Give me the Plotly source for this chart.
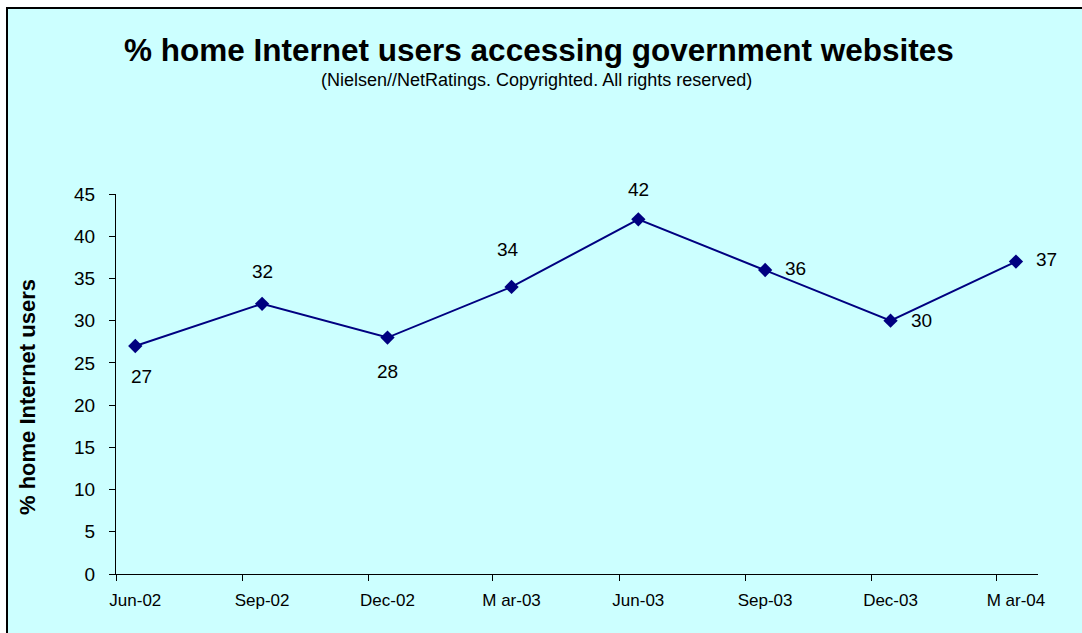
import plotly.graph_objects as go

# Quarterly survey results (mid-month of each quarter)
dates = ["2002-06-15", "2002-09-15", "2002-12-15", "2003-03-15",
         "2003-06-15", "2003-09-15", "2003-12-15", "2004-03-15"]
pct_users = [27, 32, 28, 34, 42, 36, 30, 37]
date_labels = ["Jun-02", "Sep-02", "Dec-02", "M ar-03",
               "Jun-03", "Sep-03", "Dec-03", "M ar-04"]

# value-label offsets from each point, in pixels (dx, dy; dy positive = up)
label_dx = [6, 0, 0, -4, 0, 30, 31, 31]
label_dy = [-30, 32, -34, 37, 30, 2, 0, 2]

# tick marks sit on the first day of each quarter month
quarter_starts = ["2002-06-01", "2002-09-01", "2002-12-01", "2003-03-01",
                  "2003-06-01", "2003-09-01", "2003-12-01", "2004-03-01"]

NAVY = "#000080"
BG = "#CCFFFF"
FONT = "Liberation Sans, Arial, sans-serif"

# plot-area geometry in pixels
W, H = 1082, 633
L, R, T, B = 116, 44, 194, 59
pw, ph = W - L - R, H - T - B

def px_x(x):
    return (x - L) / pw

def px_y(y):
    return (H - B - y) / ph

fig = go.Figure()
fig.add_trace(go.Scatter(
    x=dates, y=pct_users,
    mode="lines+markers",
    line=dict(color=NAVY, width=2),
    marker=dict(symbol="diamond", size=11, color=NAVY),
    cliponaxis=False,
    showlegend=False,
))

annotations = [
    dict(text="<b>% home Internet users accessing government websites</b>",
         xref="paper", yref="paper", x=px_x(539), y=px_y(50),
         xanchor="center", yanchor="middle", showarrow=False,
         font=dict(family=FONT, size=31.5, color="black")),
    dict(text="(Nielsen//NetRatings. Copyrighted. All rights reserved)",
         xref="paper", yref="paper", x=px_x(536), y=px_y(80),
         xanchor="center", yanchor="middle", showarrow=False,
         font=dict(family=FONT, size=18, color="black")),
    dict(text="<b>% home Internet users</b>",
         xref="paper", yref="paper", x=px_x(27), y=px_y(397),
         xanchor="center", yanchor="middle", showarrow=False, textangle=-90,
         font=dict(family=FONT, size=22, color="black")),
]

# value labels next to each point
for d, v, dx, dy in zip(dates, pct_users, label_dx, label_dy):
    annotations.append(dict(
        x=d, y=v, xref="x", yref="y", text=str(v), showarrow=False,
        xanchor="center", yanchor="middle", xshift=dx, yshift=dy,
        font=dict(family=FONT, size=19, color="black"),
    ))

fig.update_layout(
    width=W, height=H,
    margin=dict(l=L, r=R, t=T, b=B, pad=0),
    paper_bgcolor="white",
    plot_bgcolor=BG,
    font=dict(family=FONT, color="black"),
    shapes=[dict(
        type="rect", xref="paper", yref="paper", layer="below",
        x0=px_x(7), x1=px_x(1120), y0=px_y(680), y1=px_y(8),
        fillcolor=BG, line=dict(color="black", width=2),
    )],
    annotations=annotations,
)

fig.update_xaxes(
    type="date",
    range=["2002-06-01", "2004-03-31"],
    tickmode="array", tickvals=dates, ticktext=date_labels,
    ticks="",
    minor=dict(tickmode="array", tickvals=quarter_starts, ticks="outside",
               ticklen=6, tickcolor="black", tickwidth=1, showgrid=False),
    showline=True, linecolor="black", linewidth=1,
    showgrid=False, zeroline=False,
    tickfont=dict(family=FONT, size=17, color="black"),
    ticklabelstandoff=11,
)
fig.update_yaxes(
    range=[0, 45], dtick=5, tick0=0,
    ticks="outside", ticklen=6, tickcolor="black", tickwidth=1,
    showline=True, linecolor="black", linewidth=1,
    showgrid=False, zeroline=False,
    tickfont=dict(family=FONT, size=19, color="black"),
    ticklabelstandoff=10,
)

fig.write_html("out.html")
